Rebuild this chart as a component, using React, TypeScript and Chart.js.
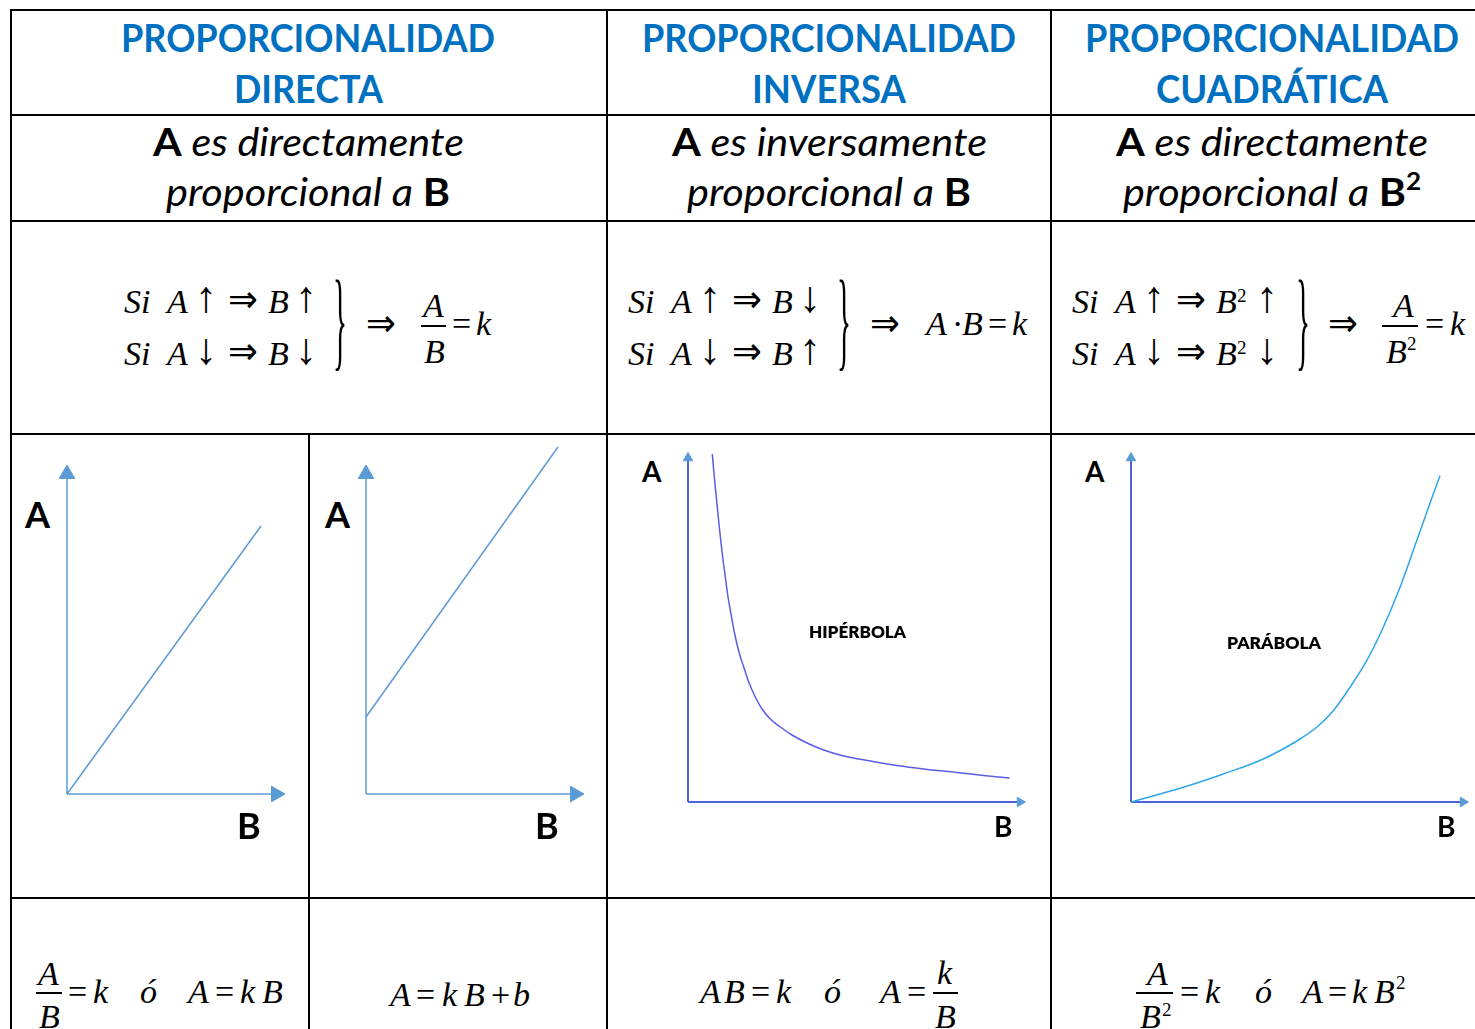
import React, { useEffect, useRef } from "react";
import { Chart, registerables } from "chart.js";
Chart.register(...registerables);

// ---------------- data (units) ----------------
const directB = [0, 19.4];
const directA = [0, 26.8];
const linearB = [0, 19.2];
const linearA = [7.7, 34.7];
const inverseB = [2.43, 2.63, 2.9, 3.17, 3.43, 3.73, 4.0, 4.3, 4.67, 5.07, 5.57, 6.07, 6.73, 7.4, 8.23, 9.23, 10.4, 11.9, 13.57, 15.57, 18.23, 20.9, 23.57, 26.9, 29.57, 32.17];
const inverseA = [34.8, 32.5, 29.8, 27.1, 24.8, 22.5, 20.5, 18.8, 16.8, 15.1, 13.5, 12.0, 10.5, 9.3, 8.3, 7.5, 6.7, 5.9, 5.2, 4.6, 4.1, 3.65, 3.3, 2.95, 2.65, 2.4];
const quadB = [0, 5.23, 9.23, 13.23, 16.9, 18.57, 20.23, 21.9, 23.57, 25.23, 26.9, 28.57, 29.8, 30.9];
const quadA = [0, 1.47, 2.8, 4.3, 6.3, 7.47, 9.13, 11.47, 14.13, 17.47, 21.47, 26.13, 29.6, 32.63];
const axisEndB = [20.9, 20.9, 33.2, 33.2];
const axisEndA = [32.0, 32.0, 34.4, 34.4];

const headers = [
  ["PROPORCIONALIDAD", "DIRECTA"],
  ["PROPORCIONALIDAD", "INVERSA"],
  ["PROPORCIONALIDAD", "CUADRÁTICA"],
];

// ---------------- text helpers ----------------
const LATO = "Lato, 'Open Sans', sans-serif";
const SERIF = "'Liberation Serif', 'DejaVu Serif', serif";
const DSANS = "'DejaVu Sans', sans-serif";
const K_LATO = 0.887;
const K_SERIF = 0.8375;
const K_DSANS = 0.8815;

type Part = { t: string; b?: boolean; i?: boolean; s?: number; dy?: number; w?: number };
let _ctx: CanvasRenderingContext2D | null = null;
function wt(p: Part) {
  return p.w ? String(p.w) : p.b ? "bold" : "normal";
}
function measure(parts: Part[], size: number, family: string) {
  if (!_ctx) _ctx = document.createElement("canvas").getContext("2d");
  let w = 0;
  for (const p of parts) {
    _ctx!.font = `${p.i ? "italic " : ""}${wt(p)} ${p.s || size}px ${family}`;
    w += _ctx!.measureText(p.t).width;
  }
  return w;
}

function TL(props: {
  x: number; y: number; size: number; family?: string; k?: number; parts: Part[];
  anchor?: "left" | "center"; fitW?: number; color?: string;
}) {
  const family = props.family || LATO;
  const k = props.k ?? (family === SERIF ? K_SERIF : family === DSANS ? K_DSANS : K_LATO);
  const w = measure(props.parts, props.size, family);
  const sx = props.fitW ? props.fitW / w : 1;
  const W = w * sx;
  const left = props.anchor === "center" ? props.x - W / 2 : props.x;
  const top = props.y - k * props.size;
  return (
    <div
      style={{
        position: "absolute", left, top, fontSize: props.size, lineHeight: `${props.size}px`,
        fontFamily: family, whiteSpace: "pre", transform: sx !== 1 ? `scaleX(${sx})` : undefined,
        transformOrigin: "left top", color: props.color || "#000",
      }}
    >
      {props.parts.map((p, i) => (
        <span
          key={i}
          style={{
            fontWeight: wt(p) as any, fontStyle: p.i ? "italic" : "normal",
            fontSize: p.s || props.size, position: "relative", top: p.dy || 0,
          }}
        >
          {p.t}
        </span>
      ))}
    </div>
  );
}

const MS = 34;
function M({ t, x, y, up, s }: { t: string; x: number; y: number; up?: boolean; s?: number }) {
  return <TL x={x} y={y} size={s || MS} family={SERIF} parts={[{ t, i: !up }]} />;
}
function Arrow({ t, x, y }: { t: string; x: number; y: number }) {
  return <TL x={x} y={y} size={44} family={SERIF} parts={[{ t }]} />;
}
function Implies({ x, y }: { x: number; y: number }) {
  return <TL x={x} y={y} size={38} family={DSANS} parts={[{ t: "⇒", w: 200 }]} fitW={30} />;
}
function Bar({ x1, x2, y }: { x1: number; x2: number; y: number }) {
  return <div style={{ position: "absolute", left: x1, top: y - 0.75, width: x2 - x1, height: 1.5, background: "#000" }} />;
}
function Brace({ x }: { x: number }) {
  return <TL x={x} y={356} size={110} family={SERIF} parts={[{ t: "}" }]} fitW={14} />;
}

// ---------------- chart helper ----------------
const P = 14;
type DS = any;
function axisSets(i: number, axisColor: string, arrowColor: string, r: number, w: number): DS[] {
  return [
    {
      data: [{ x: 0, y: 0 }, { x: axisEndB[i], y: 0 }], showLine: true, borderColor: axisColor, borderWidth: w,
      pointRadius: [0, r], pointStyle: "triangle", pointRotation: [0, 90],
      pointBackgroundColor: arrowColor, pointBorderColor: arrowColor, pointBorderWidth: 1, clip: false,
    },
    {
      data: [{ x: 0, y: 0 }, { x: 0, y: axisEndA[i] }], showLine: true, borderColor: axisColor, borderWidth: w,
      pointRadius: [0, r], pointStyle: "triangle", pointRotation: [0, 0],
      pointBackgroundColor: arrowColor, pointBorderColor: arrowColor, pointBorderWidth: 1, clip: false,
    },
  ];
}
function curveSet(bs: number[], as: number[], color: string, w: number, smooth: boolean): DS {
  return {
    data: bs.map((b, j) => ({ x: b, y: as[j] })), showLine: true, borderColor: color, borderWidth: w,
    pointRadius: 0, clip: false, cubicInterpolationMode: smooth ? "monotone" : "default", tension: 0,
  };
}

function MiniChart({ ox, oy, xMax, yMax, datasets }: { ox: number; oy: number; xMax: number; yMax: number; datasets: DS[] }) {
  const ref = useRef<HTMLCanvasElement>(null);
  const W = xMax * 10 + 2 * P;
  const H = yMax * 10 + 2 * P;
  useEffect(() => {
    const chart = new Chart(ref.current!, {
      type: "scatter",
      data: { datasets },
      options: {
        animation: false, responsive: false, devicePixelRatio: 1, events: [],
        layout: { padding: P },
        plugins: { legend: { display: false }, tooltip: { enabled: false } },
        scales: {
          x: { type: "linear", display: false, min: 0, max: xMax },
          y: { type: "linear", display: false, min: 0, max: yMax },
        },
      },
    } as any);
    return () => chart.destroy();
  }, []);
  return (
    <canvas ref={ref} width={W} height={H}
      style={{ position: "absolute", left: ox - P, top: oy - yMax * 10 - P, width: W, height: H }} />
  );
}

// ---------------- app ----------------
export default function App() {
  const L12 = "#5B9BD5";
  const AX34 = "#4F63D9";
  const hLines = [9, 114, 220, 433, 897];
  const vLines: [number, number, number][] = [[10, 9, 1029], [606, 9, 1029], [1050, 9, 1029], [308, 433, 1029]];
  const colCenters = [308, 829, 1272];
  const h1W = [374, 374, 374];
  const h2W = [149, 154, 232];

  const si = (ox: number, up1: string, up2: string, sq: boolean, y: number) => {
    const extra = sq ? 13 : 0;
    return (
      <>
        <M t="Si" x={124 + ox} y={y} />
        <M t="A" x={167 + ox} y={y} />
        <Arrow t={up1} x={195 + ox} y={y} />
        <Implies x={228 + ox} y={y} />
        <M t="B" x={268 + ox} y={y} />
        {sq && <M t="2" x={289 + ox} y={y - 11} up s={19} />}
        <Arrow t={up2} x={295 + ox + extra} y={y} />
      </>
    );
  };

  return (
    <div style={{ position: "absolute", left: 0, top: 0, width: 1475, height: 1029, overflow: "hidden", background: "#fff" }}>
      {hLines.map((y, i) => (
        <div key={"h" + i} style={{ position: "absolute", left: 10, top: y, width: 1500, height: 2, background: "#000" }} />
      ))}
      {vLines.map(([x, y1, y2], i) => (
        <div key={"v" + i} style={{ position: "absolute", left: x, top: y1, width: 2, height: y2 - y1, background: "#000" }} />
      ))}

      {/* headers */}
      {headers.map((h, i) => (
        <React.Fragment key={"hd" + i}>
          <TL x={colCenters[i]} y={52} size={38} anchor="center" fitW={h1W[i]} color="#0070C0" parts={[{ t: h[0], b: true }]} />
          <TL x={colCenters[i]} y={103} size={38} anchor="center" fitW={h2W[i]} color="#0070C0" parts={[{ t: h[1], b: true }]} />
        </React.Fragment>
      ))}

      {/* row 2 */}
      <TL x={308} y={156} size={38} anchor="center" fitW={311} parts={[{ t: "A", b: true }, { t: " es directamente", i: true }]} />
      <TL x={308} y={206} size={38} anchor="center" fitW={284} parts={[{ t: "proporcional a ", i: true }, { t: "B", b: true }]} />
      <TL x={829} y={156} size={38} anchor="center" fitW={315} parts={[{ t: "A", b: true }, { t: " es inversamente", i: true }]} />
      <TL x={829} y={206} size={38} anchor="center" fitW={284} parts={[{ t: "proporcional a ", i: true }, { t: "B", b: true }]} />
      <TL x={1272} y={156} size={38} anchor="center" fitW={312} parts={[{ t: "A", b: true }, { t: " es directamente", i: true }]} />
      <TL x={1272} y={206} size={38} anchor="center" fitW={298}
        parts={[{ t: "proporcional a ", i: true }, { t: "B", b: true }, { t: "2", b: true, s: 24, dy: -16 }]} />

      {/* row 3 col 1 */}
      {si(0, "↑", "↑", false, 313)}
      {si(0, "↓", "↓", false, 365)}
      <Brace x={333} />
      <Implies x={366} y={337} />
      <M t="A" x={423} y={317} />
      <Bar x1={421} x2={446} y={326} />
      <M t="B" x={424} y={363} />
      <M t="=" x={452} y={335} up />
      <M t="k" x={476} y={335} />

      {/* row 3 col 2 */}
      {si(504, "↑", "↓", false, 313)}
      {si(504, "↓", "↑", false, 365)}
      <Brace x={837} />
      <Implies x={870} y={337} />
      <M t="A" x={926} y={335} />
      <M t="·" x={952} y={335} up />
      <M t="B" x={962} y={335} />
      <M t="=" x={988} y={335} up />
      <M t="k" x={1012} y={335} />

      {/* row 3 col 3 */}
      {si(948, "↑", "↑", true, 313)}
      {si(948, "↓", "↓", true, 365)}
      <Brace x={1296} />
      <Implies x={1328} y={337} />
      <M t="A" x={1393} y={317} />
      <Bar x1={1382} x2={1418} y={326} />
      <M t="B" x={1386} y={363} />
      <M t="2" x={1407} y={350} up s={19} />
      <M t="=" x={1425} y={335} up />
      <M t="k" x={1450} y={335} />

      {/* charts */}
      <MiniChart ox={67} oy={794} xMax={21} yMax={35}
        datasets={[curveSet(directB, directA, L12, 1.5, false), ...axisSets(0, L12, L12, 9, 1.5)]} />
      <MiniChart ox={366} oy={794} xMax={21} yMax={35}
        datasets={[curveSet(linearB, linearA, L12, 1.5, false), ...axisSets(1, L12, L12, 9, 1.5)]} />
      <MiniChart ox={688} oy={802} xMax={33.5} yMax={35}
        datasets={[curveSet(inverseB, inverseA, "#5C5CE6", 1.5, true), ...axisSets(2, AX34, L12, 5.5, 2)]} />
      <MiniChart ox={1131} oy={802} xMax={33.5} yMax={35}
        datasets={[curveSet(quadB, quadA, "#2EA6EA", 1.5, true), ...axisSets(3, AX34, L12, 5.5, 2)]} />

      {/* chart labels */}
      <TL x={25} y={528} size={36} parts={[{ t: "A", b: true }]} />
      <TL x={237} y={839} size={36} parts={[{ t: "B", b: true }]} />
      <TL x={325} y={528} size={36} parts={[{ t: "A", b: true }]} />
      <TL x={535} y={839} size={36} parts={[{ t: "B", b: true }]} />
      <TL x={642} y={482} size={28} parts={[{ t: "A", b: true }]} />
      <TL x={994} y={837} size={28} parts={[{ t: "B", b: true }]} />
      <TL x={809} y={638} size={17} fitW={97} color="#000" parts={[{ t: "HIPÉRBOLA", w: 800 }]} />
      <TL x={1085} y={482} size={28} parts={[{ t: "A", b: true }]} />
      <TL x={1437} y={837} size={28} parts={[{ t: "B", b: true }]} />
      <TL x={1227} y={649} size={17} fitW={94} color="#000" parts={[{ t: "PARÁBOLA", w: 800 }]} />

      {/* row 5 col 1a */}
      <M t="A" x={38} y={985} />
      <Bar x1={36} x2={62} y={993} />
      <M t="B" x={39} y={1028} />
      <M t="=" x={68} y={1003} up />
      <M t="k" x={93} y={1003} />
      <M t="ó" x={140} y={1003} />
      <M t="A" x={188} y={1003} />
      <M t="=" x={215} y={1003} up />
      <M t="k" x={240} y={1003} />
      <M t="B" x={262} y={1003} />

      {/* row 5 col 1b */}
      <M t="A" x={390} y={1006} />
      <M t="=" x={416} y={1006} up />
      <M t="k" x={442} y={1006} />
      <M t="B" x={464} y={1006} />
      <M t="+" x={491} y={1006} up />
      <M t="b" x={513} y={1006} />

      {/* row 5 col 2 */}
      <M t="A" x={700} y={1003} />
      <M t="B" x={724} y={1003} />
      <M t="=" x={751} y={1003} up />
      <M t="k" x={776} y={1003} />
      <M t="ó" x={824} y={1003} />
      <M t="A" x={880} y={1003} />
      <M t="=" x={907} y={1003} up />
      <M t="k" x={937} y={984} />
      <Bar x1={933} x2={958} y={993} />
      <M t="B" x={935} y={1028} />

      {/* row 5 col 3 */}
      <M t="A" x={1147} y={985} />
      <Bar x1={1136} x2={1173} y={993} />
      <M t="B" x={1140} y={1028} />
      <M t="2" x={1162} y={1016} up s={19} />
      <M t="=" x={1180} y={1003} up />
      <M t="k" x={1205} y={1003} />
      <M t="ó" x={1255} y={1003} />
      <M t="A" x={1302} y={1003} />
      <M t="=" x={1328} y={1003} up />
      <M t="k" x={1352} y={1003} />
      <M t="B" x={1374} y={1003} />
      <M t="2" x={1396} y={989} up s={19} />
    </div>
  );
}
